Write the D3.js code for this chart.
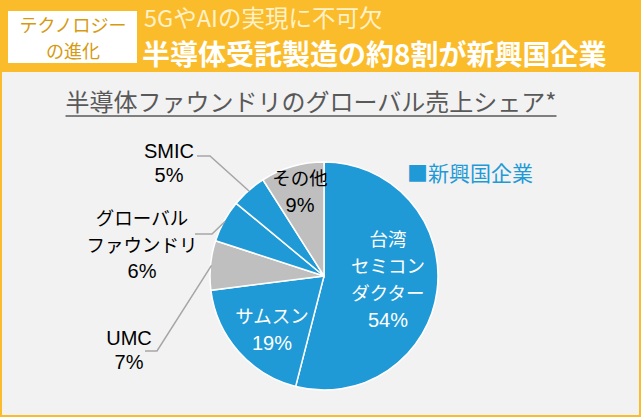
<!DOCTYPE html>
<html>
<head>
<meta charset="utf-8">
<script src="https://cdn.jsdelivr.net/npm/d3@7"></script>
<style>
  html, body { margin: 0; padding: 0; background: #FBBC2B; }
  svg { display: block; }
  text { font-family: "Liberation Sans", "Noto Sans CJK JP", sans-serif; }
</style>
</head>
<body>
<div id="chart"></div>
<script>
// data
const companies = ["台湾セミコンダクター", "サムスン", "UMC", "グローバルファウンドリ", "SMIC", "その他"];
const shares = [54, 19, 7, 6, 5, 9];
const emerging = [true, true, false, true, true, false];
// label lines as shown in the picture
const labelLines = [
  ["台湾", "セミコン", "ダクター", "54%"],
  ["サムスン", "19%"],
  ["UMC", "7%"],
  ["グローバル", "ファウンドリ", "6%"],
  ["SMIC", "5%"],
  ["その他", "9%"]
];

const W = 641, H = 417;
const blue = "#1F9AD6", gray = "#BFBFBF";

const svg = d3.select("#chart").append("svg")
  .attr("width", W)
  .attr("height", H);

// background + panel
svg.append("rect").attr("width", W).attr("height", H).attr("fill", "#FBBC2B");
svg.append("rect").attr("x", 2).attr("y", 72).attr("width", 637).attr("height", 343).attr("fill", "#F2F2F2");

// header tag box
svg.append("rect").attr("x", 8).attr("y", 11).attr("width", 129).attr("height", 52).attr("fill", "#fff");
svg.append("text").attr("x", 73).attr("y", 32).attr("text-anchor", "middle")
  .attr("font-size", 18).attr("fill", "#D69A10")
  .style("font-family", "'Noto Sans CJK JP'")
  .text("テクノロジー");
svg.append("text").attr("x", 73).attr("y", 58).attr("text-anchor", "middle")
  .attr("font-size", 18).attr("fill", "#D69A10")
  .style("font-family", "'Noto Sans CJK JP'")
  .text("の進化");

// headline
svg.append("text").attr("x", 144).attr("y", 27)
  .attr("font-size", 23.5).attr("fill", "#FFF1C8")
  .style("font-family", "'Noto Sans CJK JP'")
  .text("5GやAIの実現に不可欠");
svg.append("text").attr("x", 142).attr("y", 65)
  .attr("font-size", 28).attr("font-weight", "bold").attr("fill", "#fff")
  .style("font-family", "'Noto Sans CJK JP'")
  .text("半導体受託製造の約8割が新興国企業");

// chart title
const title = svg.append("text").attr("x", 311).attr("y", 111).attr("text-anchor", "middle")
  .attr("font-size", 24).attr("fill", "#595959")
  .style("font-family", "'Noto Sans CJK JP'")
  .text("半導体ファウンドリのグローバル売上シェア*");
const tb = title.node().getBBox();
svg.append("line").attr("x1", tb.x).attr("x2", tb.x + tb.width)
  .attr("y1", 116).attr("y2", 116)
  .attr("stroke", "#595959").attr("stroke-width", 1.5);

// pie
const cx = 324, cy = 276, R = 114;
const pie = d3.pie().sort(null).value(d => d)(shares);
const arc = d3.arc().innerRadius(0).outerRadius(R);

const g = svg.append("g").attr("transform", `translate(${cx},${cy})`);
g.selectAll("path")
  .data(pie)
  .join("path")
  .attr("d", arc)
  .attr("fill", (d, i) => emerging[i] ? blue : gray)
  .attr("stroke", "#fff")
  .attr("stroke-width", 1.5);

// label placement (x, baseline of first line, line step, color)
const labelPos = [
  { x: 388, y: 246, step: 27, fill: "#fff" },
  { x: 272, y: 323, step: 27, fill: "#fff" },
  { x: 129, y: 345, step: 24, fill: "#000", leader: [145, 157, 351] },
  { x: 142, y: 225, step: 26.5, fill: "#000", leader: [195, 212, 234] },
  { x: 169, y: 158, step: 24, fill: "#000", leader: [197, 210, 156] },
  { x: 300, y: 185, step: 27, fill: "#000" }
];

pie.forEach((d, i) => {
  const p = labelPos[i];
  if (p.leader) {
    const a = (d.startAngle + d.endAngle) / 2;
    const ex = cx + Math.sin(a) * (R - 1), ey = cy - Math.cos(a) * (R - 1);
    svg.append("polyline")
      .attr("points", `${p.leader[0]},${p.leader[2]} ${p.leader[1]},${p.leader[2]} ${ex},${ey}`)
      .attr("fill", "none").attr("stroke", "#A6A6A6").attr("stroke-width", 1.5);
  }
  const t = svg.append("text").attr("text-anchor", "middle").attr("fill", p.fill);
  labelLines[i].forEach((s, k) => {
    const latin = /^[A-Za-z0-9%]+$/.test(s);
    t.append("tspan").attr("x", p.x).attr("y", p.y + k * p.step)
      .attr("font-size", latin ? 20 : 18.5)
      .text(s);
  });
});

// legend
svg.append("text").attr("x", 407).attr("y", 181)
  .attr("font-size", 21).attr("fill", blue)
  .style("font-family", "'Noto Sans CJK JP'")
  .text("■新興国企業");
</script>
</body>
</html>
